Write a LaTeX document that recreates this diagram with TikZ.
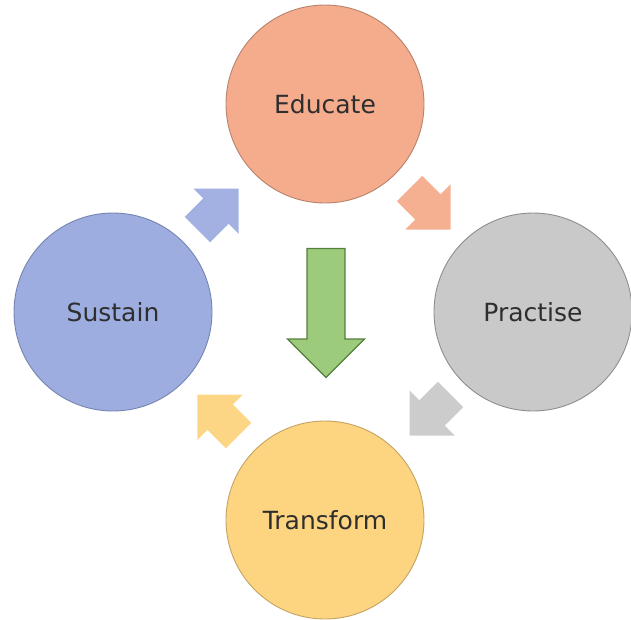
\documentclass[tikz,border=0pt]{standalone}
\usepackage{fontspec}
\setmainfont{DejaVu Sans}
\usetikzlibrary{calc}
\definecolor{eduCol}{HTML}{F4AC8C}
\definecolor{eduEdge}{HTML}{B9826C}
\definecolor{praCol}{HTML}{C9C9C9}
\definecolor{praEdge}{HTML}{8E8E8E}
\definecolor{traCol}{HTML}{FDD47F}
\definecolor{traEdge}{HTML}{C4A363}
\definecolor{susCol}{HTML}{9DADDF}
\definecolor{susEdge}{HTML}{7684B2}
\definecolor{bigCol}{HTML}{9CCB7C}
\definecolor{bigEdge}{HTML}{557F3C}
\tikzset{
  stage/.style={circle, draw=#1Edge, fill=#1Col, line width=0.9pt, minimum size=198pt,
                inner sep=0pt, font=\fontsize{25}{30}\selectfont, text=black!82},
  flow/.style={fill=#1Col!95!white, draw=none},                 % small cycle arrows
  bigflow/.style={fill=bigCol, draw=bigEdge, line width=1.2pt, line join=miter},
}
% block arrow: center, angle, half length, half shaft, half head (90 deg tip)
\newcommand{\blkarrow}[6]{%
  \begin{scope}[shift={#1}, rotate=#2]
    \pgfmathsetmacro{\hb}{#3-#5}
    \draw[#6] (-#3,-#4) -- (\hb,-#4) -- (\hb,-#5) -- (#3,0) -- (\hb,#5) -- (\hb,#4)
      -- (-#3,#4) -- cycle;
  \end{scope}}

\begin{document}
\begin{tikzpicture}[x=1pt, y=-1pt]
  \useasboundingbox (0,0) rectangle (631,619);
  \node[stage=edu] (edu) at (325,104) {Educate};
  \node[stage=pra] (pra) at (533,312) {Practise};
  \node[stage=tra] (tra) at (325,520) {Transform};
  \node[stage=sus] (sus) at (113,312) {Sustain};

  \blkarrow{($(edu)!0.5!(pra)+(1,1)$)}{-45}{29}{18}{32}{flow=edu}
  \blkarrow{($(pra)!0.5!(tra)+(1,-1)$)}{-135}{29}{18}{32}{flow=pra}
  \blkarrow{($(tra)!0.5!(sus)+(-1,-1)$)}{135}{29}{18}{32}{flow=tra}
  \blkarrow{($(sus)!0.5!(edu)+(-1,1)$)}{45}{29}{18}{32}{flow=sus}

  \blkarrow{($(edu)!0.5!(tra)+(1,1)$)}{-90}{64.5}{19}{38.5}{bigflow}
\end{tikzpicture}
\end{document}
